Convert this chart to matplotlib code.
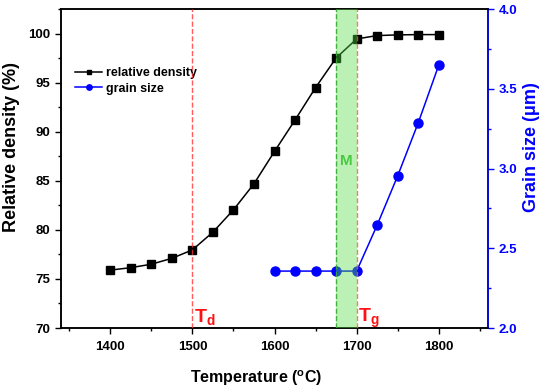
import matplotlib
matplotlib.use('Agg')
import matplotlib.pyplot as plt
from matplotlib.ticker import MultipleLocator

plt.rcParams['font.family'] = ['Liberation Sans', 'DejaVu Sans']
plt.rcParams['font.weight'] = 'bold'
plt.rcParams['mathtext.fontset'] = 'custom'
plt.rcParams['mathtext.rm'] = 'Liberation Sans:bold'
plt.rcParams['mathtext.bf'] = 'Liberation Sans:bold'
plt.rcParams['mathtext.it'] = 'Liberation Sans:bold'

# Data
temp_density = [1400, 1425, 1450, 1475, 1500, 1525, 1550, 1575, 1600, 1625,
                1650, 1675, 1700, 1725, 1750, 1775, 1800]
rel_density = [75.9, 76.15, 76.5, 77.1, 77.96, 79.77, 82.04, 84.7, 88.0, 91.2,
               94.5, 97.52, 99.46, 99.8, 99.87, 99.9, 99.9]
temp_grain = [1600, 1625, 1650, 1675, 1700, 1725, 1750, 1775, 1800]
grain_size = [2.357, 2.357, 2.357, 2.357, 2.357, 2.646, 2.955, 3.287, 3.649]

T_D = 1500
T_G = 1700
M_START = 1675

BLUE = '#0000ff'

fig = plt.figure(figsize=(5.42, 3.88), dpi=100)
ax = fig.add_axes([0.1125, 0.1546, 0.788, 0.822])
ax2 = ax.twinx()

l1, = ax.plot(temp_density, rel_density, '-s', color='black', lw=1.1,
              ms=5.5, label='relative density')
l2, = ax2.plot(temp_grain, grain_size, '-o', color=BLUE, lw=1.1,
               ms=6.5, label='grain size')

# transition region and markers
ax2.axvspan(M_START, T_G, color='#55dd44', alpha=0.4, lw=0, zorder=5)
ax2.axvline(T_D, color='#ff3333', ls='--', lw=1, alpha=0.8, zorder=6)
ax2.axvline(T_G, color='#f06040', ls='--', lw=1, alpha=0.8, zorder=6)
ax2.axvline(M_START, color='#33aa33', ls='--', lw=1, alpha=0.9, zorder=6)

ax.text(T_D + 2, 70.6, r'$\mathbf{T_d}$', color='#ff1111', fontsize=14,
        va='baseline', ha='left')
ax.text(T_G + 2, 70.6, r'$\mathbf{T_g}$', color='#ff1111', fontsize=14,
        va='baseline', ha='left')
ax.text((M_START + T_G) / 2, 87.0, 'M', color='#44bb44', fontsize=11,
        fontweight='bold', ha='center', va='center', zorder=10)

ax.set_xlim(1340, 1860)
ax.set_ylim(70, 102.5)
ax2.set_ylim(2.0, 4.0)

ax.xaxis.set_major_locator(MultipleLocator(100))
ax.xaxis.set_minor_locator(MultipleLocator(50))
ax.yaxis.set_major_locator(MultipleLocator(5))
ax.yaxis.set_minor_locator(MultipleLocator(2.5))
ax2.yaxis.set_major_locator(MultipleLocator(0.5))
ax2.yaxis.set_minor_locator(MultipleLocator(0.25))

ax.tick_params(which='both', direction='out', labelsize=9.5, width=1)
ax.tick_params(axis='x', pad=5)
ax.tick_params(which='major', length=4)
ax.tick_params(which='minor', length=2.5)
ax2.tick_params(which='both', direction='out', labelsize=9.5, width=1,
                colors=BLUE)
ax2.tick_params(which='major', length=4)
ax2.tick_params(which='minor', length=2.5)
ax2.spines['right'].set_color(BLUE)
for sp in ['left', 'bottom', 'top']:
    ax2.spines[sp].set_color('black')
for a in (ax, ax2):
    for sp in a.spines.values():
        sp.set_linewidth(1.1)

ax.set_xlabel(r'Temperature ($^{\mathrm{o}}$C)', fontsize=11.5, fontweight='bold')
ax.set_ylabel('Relative density (%)', fontsize=13, fontweight='bold')
ax2.set_ylabel('Grain size (μm)', fontsize=13, fontweight='bold', color=BLUE)
ax.xaxis.set_label_coords(0.457, -0.126)
ax.yaxis.set_label_coords(-0.097, 0.567)
ax2.yaxis.set_label_coords(1.082, 0.567)

ax2.legend(handles=[l1, l2], loc='upper left',
           bbox_to_anchor=((70 - 61) / 427, (328 - 62) / 319),
           frameon=False, fontsize=9, handlelength=2.2, handletextpad=0.3,
           borderaxespad=0, labelspacing=0.3, markerscale=0.6)

fig.savefig('out.png', dpi=100)
